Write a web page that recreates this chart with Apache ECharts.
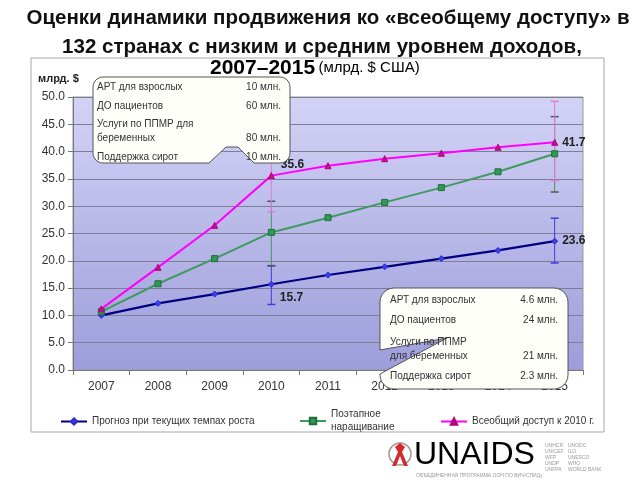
<!DOCTYPE html>
<html><head><meta charset="utf-8">
<script src="https://cdn.jsdelivr.net/npm/echarts@6/dist/echarts.min.js"></script>
<style>html,body{margin:0;padding:0;background:#fff}#c{width:640px;height:480px}</style>
</head><body><div id="c"></div>
<script>
const years = ['2007','2008','2009','2010','2011','2012','2013','2014','2015'];
const yTicks = [0,5,10,15,20,25,30,35,40,45,50];
const currentRate = [10.0, 12.2, 13.9, 15.7, 17.4, 18.9, 20.4, 21.9, 23.6];
const phased = [10.7, 15.8, 20.4, 25.2, 27.9, 30.7, 33.4, 36.3, 39.6];
const universal = [11.2, 18.8, 26.5, 35.6, 37.4, 38.7, 39.7, 40.8, 41.7];
const currentErr = [['2010', 12.0, 19.1], ['2015', 19.6, 27.8]];
const phasedErr = [['2010', 19.1, 30.9], ['2015', 32.6, 46.4]];
const universalErr = [['2010', 29.0, 43.0], ['2015', 34.7, 49.2]];
const names = ['Прогноз при текущих темпах роста', 'Поэтапное наращивание', 'Всеобщий доступ к 2010 г.'];
const callout1 = [['АРТ для взрослых', '10 млн.'], ['ДО пациентов', '60 млн.'], ['Услуги по ППМР для\nбеременных', '80 млн.'], ['Поддержка сирот', '10 млн.']];
const callout2 = [['АРТ для взрослых', '4.6 млн.'], ['ДО пациентов', '24 млн.'], ['Услуги по ППМР\nдля беременных', '21 млн.'], ['Поддержка сирот', '2.3 млн.']];

const FF = 'Liberation Sans, Arial, sans-serif';
const chart = echarts.init(document.getElementById('c'), null, {renderer: 'canvas'});

const lblStyle = {show: true, fontFamily: FF, fontSize: 12, fontWeight: 'bold', color: '#222'};
function withLabels(arr, spec) {
  return arr.map((v, i) => spec[i] ? {value: v, label: Object.assign({}, lblStyle, {position: 'right', offset: spec[i]})} : v);
}

function errSeries(data, lineColor, capColor) {
  return {
    type: 'custom', z: 3, silent: true,
    data: data,
    encode: {x: 0, y: [1, 2]},
    renderItem: function (params, api) {
      const lo = api.coord([api.value(0), api.value(1)]);
      const hi = api.coord([api.value(0), api.value(2)]);
      const w = 4;
      return {type: 'group', children: [
        {type: 'line', shape: {x1: lo[0], y1: lo[1], x2: hi[0], y2: hi[1]}, style: {stroke: lineColor, lineWidth: 1}},
        {type: 'line', shape: {x1: lo[0]-w, y1: lo[1], x2: lo[0]+w, y2: lo[1]}, style: {stroke: capColor, lineWidth: 1.5}},
        {type: 'line', shape: {x1: hi[0]-w, y1: hi[1], x2: hi[0]+w, y2: hi[1]}, style: {stroke: capColor, lineWidth: 1.5}}
      ]};
    }
  };
}

function arc(cx, cy, r, a0, a1) {
  const pts = [];
  for (let k = 0; k <= 6; k++) {
    const a = a0 + (a1 - a0) * k / 6;
    pts.push([cx + r * Math.cos(a), cy + r * Math.sin(a)]);
  }
  return pts;
}
const PI = Math.PI;
function callout(x0, y0, x1, y1, r, bottomNotch, leftNotch) {
  let p = [];
  p = p.concat(arc(x0 + r, y0 + r, r, PI, 1.5 * PI));
  p = p.concat(arc(x1 - r, y0 + r, r, 1.5 * PI, 2 * PI));
  p = p.concat(arc(x1 - r, y1 - r, r, 0, 0.5 * PI));
  if (bottomNotch) p = p.concat(bottomNotch);
  p = p.concat(arc(x0 + r, y1 - r, r, 0.5 * PI, PI));
  if (leftNotch) p = p.concat(leftNotch);
  return p;
}

function calloutTexts(rows, x, xr, ys) {
  const out = [];
  rows.forEach((r, i) => {
    const two = r[0].indexOf('\n') >= 0;
    out.push({type: 'text', z: 101, x: x, y: ys[i],
      style: {text: r[0], font: '10px ' + FF, fill: '#333', lineHeight: 14, textVerticalAlign: 'middle', verticalAlign: 'middle'}});
    out.push({type: 'text', z: 101, x: xr, y: ys[i] + (two ? 7 : 0),
      style: {text: r[1], font: '10px ' + FF, fill: '#333', textAlign: 'right', align: 'right', textVerticalAlign: 'middle', verticalAlign: 'middle'}});
  });
  return out;
}

const c1pts = callout(93, 77, 290, 163, 10, [[254, 163], [238, 147], [226, 147], [209, 163]], null);
const c2pts = callout(380, 288, 568, 389, 14, null, [[380, 374], [447, 338], [380, 350]]);

const midStyle = {verticalAlign: 'middle', textVerticalAlign: 'middle'};
const graphics = [
  {type: 'rect', z: -5, shape: {x: 31, y: 58, width: 573, height: 374}, style: {fill: 'transparent', stroke: '#a8a8a8', lineWidth: 1}},
  {type: 'text', z: 10, x: 328, y: 18, style: Object.assign({text: 'Оценки динамики продвижения ко «всеобщему доступу» в', font: 'bold 20.5px ' + FF, fill: '#111', textAlign: 'center', align: 'center'}, midStyle)},
  {type: 'text', z: 10, x: 322, y: 47, style: Object.assign({text: '132 странах с низким и средним уровнем доходов,', font: 'bold 20.5px ' + FF, fill: '#111', textAlign: 'center', align: 'center'}, midStyle)},
  {type: 'text', z: 10, x: 210, y: 68, style: Object.assign({text: '{a|2007–2015} {b|(млрд. $ США)}', rich: {a: {fontFamily: FF, fontSize: 21, fontWeight: 'bold', color: '#111'}, b: {fontFamily: FF, fontSize: 15, color: '#222'}}}, midStyle)},
  {type: 'text', z: 10, x: 38, y: 79, style: Object.assign({text: 'млрд. $', font: 'bold 11px ' + FF, fill: '#222'}, midStyle)},
  {type: 'polygon', z: 100, shape: {points: c1pts}, style: {fill: '#fffffa', stroke: '#555', lineWidth: 1}},
  {type: 'polygon', z: 100, shape: {points: c2pts}, style: {fill: '#fffffa', stroke: '#555', lineWidth: 1}},
  {type: 'circle', z: 10, shape: {cx: 400, cy: 454, r: 11}, style: {fill: '#fff', stroke: '#999', lineWidth: 1.5}},
  {type: 'polygon', z: 11, shape: {points: [[400, 443], [395, 447], [398, 452], [392, 466], [396, 466], [400, 456], [404, 466], [408, 466], [402, 452], [405, 447]]}, style: {fill: '#d42a2a'}},
  {type: 'text', z: 10, x: 414, y: 455, style: Object.assign({text: '{a|UN}{b|AIDS}', rich: {a: {fontFamily: FF, fontSize: 32, color: '#222'}, b: {fontFamily: FF, fontSize: 32, color: '#d42a2a'}}}, midStyle)},
  {type: 'text', z: 10, x: 416, y: 473, style: {text: 'ОБЪЕДИНЕННАЯ ПРОГРАММА ООН ПО ВИЧ/СПИДу', font: '5px ' + FF, fill: '#999'}},
  {type: 'text', z: 10, x: 545, y: 443, style: {text: 'UNHCR\nUNICEF\nWFP\nUNDP\nUNFPA', font: '5px ' + FF, fill: '#999', lineHeight: 6}},
  {type: 'text', z: 10, x: 568, y: 443, style: {text: 'UNODC\nILO\nUNESCO\nWHO\nWORLD BANK', font: '5px ' + FF, fill: '#999', lineHeight: 6}}
].concat(calloutTexts(callout1, 97, 281, [87, 106, 131, 157]))
 .concat(calloutTexts(callout2, 390, 558, [300, 320, 349, 376]));

const legendBase = {
  orient: 'horizontal', itemWidth: 26, itemHeight: 8, itemGap: 8,
  textStyle: {fontFamily: FF, fontSize: 10, color: '#333', lineHeight: 13},
  formatter: n => n === names[1] ? 'Поэтапное\nнаращивание' : n
};

chart.setOption({
  animation: false,
  backgroundColor: '#fff',
  textStyle: {fontFamily: FF},
  grid: {left: 73, right: 57, top: 97, bottom: 110, show: true, borderColor: '#999', borderWidth: 1,
    backgroundColor: {type: 'linear', x: 0, y: 0, x2: 0, y2: 1, colorStops: [{offset: 0, color: '#d3d3f6'}, {offset: 1, color: '#9d9ddb'}]}},
  legend: [
    Object.assign({}, legendBase, {data: [names[0]], left: 55, top: 410}),
    Object.assign({}, legendBase, {data: [names[1]], left: 294, top: 403}),
    Object.assign({}, legendBase, {data: [names[2]], left: 435, top: 410})
  ],
  xAxis: {
    type: 'category', data: years, boundaryGap: true,
    axisLine: {lineStyle: {color: '#777'}},
    axisTick: {show: true, length: 5, lineStyle: {color: '#777'}},
    axisLabel: {fontFamily: FF, fontSize: 12, color: '#333', margin: 11}
  },
  yAxis: {
    type: 'value', min: yTicks[0], max: yTicks[yTicks.length - 1], interval: yTicks[1] - yTicks[0],
    axisLine: {show: true, lineStyle: {color: '#777'}},
    axisTick: {show: true, length: 5, lineStyle: {color: '#777'}},
    axisLabel: {fontFamily: FF, fontSize: 12, color: '#333', margin: 8, formatter: v => v.toFixed(1)},
    splitLine: {lineStyle: {color: '#7d7d95', width: 1}}
  },
  graphic: graphics,
  series: [
    errSeries(currentErr, '#3c3ce0', '#3c3ce0'),
    errSeries(phasedErr, '#3f9a5f', '#555'),
    errSeries(universalErr, '#e27ad8', '#e27ad8'),
    {name: names[0], type: 'line', z: 5, data: withLabels(currentRate, {3: [0, 13], 8: [-1, 0]}),
      lineStyle: {color: '#000080', width: 2.2}, symbol: 'diamond', symbolSize: 6,
      itemStyle: {color: '#3c3cf0', borderColor: '#2a2ad0', borderWidth: 1}},
    {name: names[1], type: 'line', z: 5, data: phased,
      lineStyle: {color: '#3f9a5f', width: 2}, symbol: 'rect', symbolSize: 6,
      itemStyle: {color: '#2e9a55', borderColor: '#1f6f3c', borderWidth: 1}},
    {name: names[2], type: 'line', z: 5, data: withLabels(universal, {3: [1, -11], 8: [-1, 0]}),
      lineStyle: {color: '#ff00ff', width: 2}, symbol: 'triangle', symbolSize: 6,
      itemStyle: {color: '#c8108c', borderColor: '#b00078', borderWidth: 1}}
  ]
});
</script>
</body></html>
